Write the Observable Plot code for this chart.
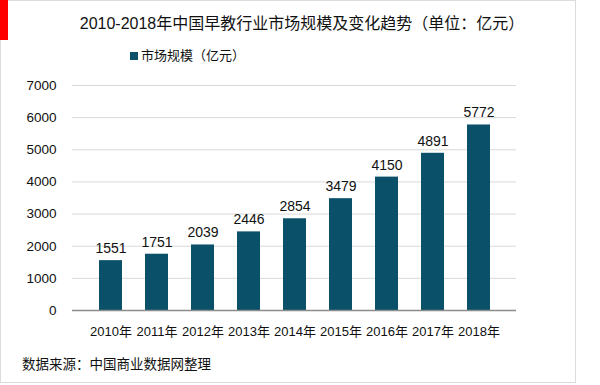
<!DOCTYPE html>
<html>
<head>
<meta charset="utf-8">
<script src="https://cdn.jsdelivr.net/npm/d3@7"></script>
<script src="https://cdn.jsdelivr.net/npm/@observablehq/plot@0.6"></script>
<style>
  html, body { margin: 0; padding: 0; background: #fff; }
  #wrap { position: relative; width: 600px; height: 385px; overflow: hidden; font-family: "Liberation Sans", Arial, "Noto Sans CJK SC", sans-serif; }
  #border { position: absolute; left: 0; top: 0; width: 576px; height: 383px; border: 1px solid #dcdcdc; box-sizing: border-box; }
  #redbar { position: absolute; left: 0; top: 0; width: 8px; height: 40px; background: #ff0000; }
  .t { position: absolute; white-space: nowrap; color: #111; line-height: 1; }
  #title { left: 0; width: 604px; text-align: center; top: 16px; font-size: 16px; }
  #legend { left: 130px; top: 49px; font-size: 13px; display: flex; align-items: center; }
  #legend .sw { width: 8px; height: 8px; background: #0a5068; margin-right: 3px; }
  #source { left: 22px; top: 358px; font-size: 13.5px; }
  #chart { position: absolute; left: 0; top: 0; }
</style>
</head>
<body>
<div id="wrap">
  <div id="chart"></div>
  <div id="border"></div>
  <div id="redbar"></div>
  <div class="t" id="title">2010-2018年中国早教行业市场规模及变化趋势（单位：亿元）</div>
  <div class="t" id="legend"><span class="sw"></span><span>市场规模（亿元）</span></div>
  <div class="t" id="source">数据来源：中国商业数据网整理</div>
</div>
<script>
const years = ["2010年","2011年","2012年","2013年","2014年","2015年","2016年","2017年","2018年"];
const values = [1551, 1751, 2039, 2446, 2854, 3479, 4150, 4891, 5772];
const yTicks = [0, 1000, 2000, 3000, 4000, 5000, 6000, 7000];

const data = years.map((y, i) => ({year: y, value: values[i]}));

const chart = Plot.plot({
  width: 600,
  height: 385,
  marginTop: 85,
  marginBottom: 75,
  marginLeft: 72,
  marginRight: 84,
  style: {fontFamily: '"Liberation Sans", Arial, "Noto Sans CJK SC", sans-serif', fontSize: "13.5px", color: "#111", background: "transparent"},
  x: {domain: years, padding: 0.51, label: null},
  y: {domain: [0, 7000], label: null},
  marks: [
    Plot.gridY(yTicks.filter(d => d > 0), {stroke: "#d9d9d9", strokeOpacity: 1}),
    Plot.axisY(yTicks, {tickSize: 0, tickPadding: 16, tickFormat: d => String(d), fontSize: 13.5}),
    Plot.axisX({tickSize: 0, tickPadding: 16, fontSize: 13}),
    Plot.barY(data, {x: "year", y: "value", fill: "#0a5068"}),
    Plot.ruleY([0], {stroke: "#8c8c8c", strokeWidth: 1.5}),
    Plot.text(data, {x: "year", y: "value", text: d => String(d.value), dy: -12, fill: "#111", fontSize: 14})
  ]
});
document.getElementById("chart").appendChild(chart);
</script>
</body>
</html>
